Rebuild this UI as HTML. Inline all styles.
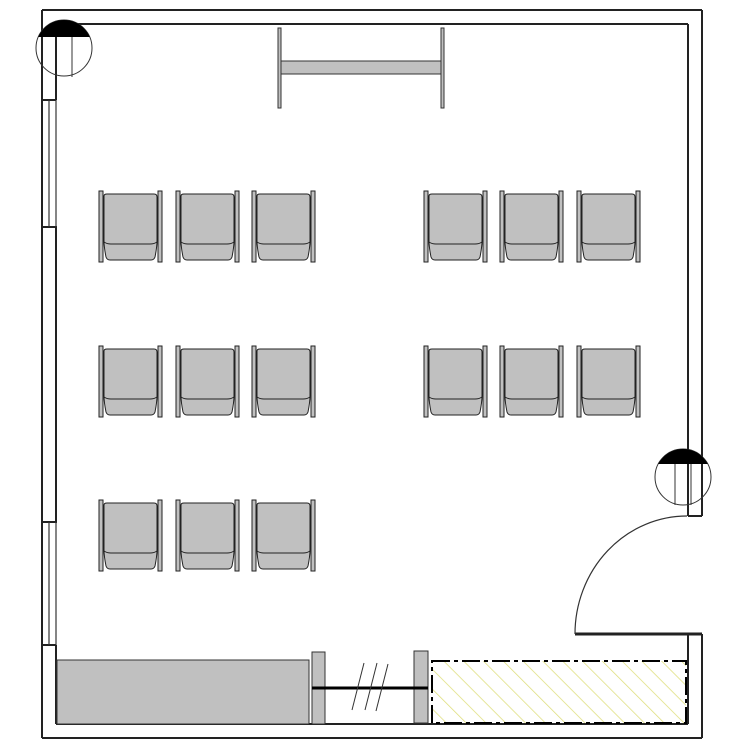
<!DOCTYPE html>
<html><head><style>body{margin:0;background:#fff}svg{display:block}</style></head><body>
<svg width="750" height="750" viewBox="0 0 750 750" xmlns="http://www.w3.org/2000/svg">
<defs>
<pattern id="h" patternUnits="userSpaceOnUse" width="14" height="14" patternTransform="rotate(-45)">
<line x1="0" y1="0" x2="0" y2="14" stroke="#dede7a" stroke-width="1.5"/>
</pattern>
<clipPath id="c1"><rect x="0" y="0" width="750" height="37"/></clipPath>
<clipPath id="c2"><rect x="600" y="400" width="150" height="64"/></clipPath>
<g id="ch">
<rect x="0" y="0" width="4" height="71" fill="#c0c0c0" stroke="#222" stroke-width="1"/>
<rect x="59" y="0" width="4" height="71" fill="#c0c0c0" stroke="#222" stroke-width="1"/>
<path d="M5 5 Q5 3 8 3 L55 3 Q58 3 58 6 L58 50 Q58 56 56 66 Q55 69 52 69 L11 69 Q8 69 7 66 Q5 56 5 50 Z" fill="#c0c0c0" stroke="#222" stroke-width="1"/>
<path d="M5 51 Q8 53 12 53 L51 53 Q55 53 58 51" fill="none" stroke="#222" stroke-width="1"/>
</g>
</defs>
<g fill="none" stroke="#222" stroke-width="2">
<line x1="42" y1="10" x2="702" y2="10"/>
<line x1="56" y1="24" x2="688" y2="24"/>
<line x1="702" y1="10" x2="702" y2="516"/>
<line x1="688" y1="24" x2="688" y2="516"/>
<line x1="688" y1="516" x2="702" y2="516"/>
<line x1="702" y1="634" x2="702" y2="738"/>
<line x1="688" y1="634" x2="688" y2="724"/>
<line x1="575" y1="634" x2="702" y2="634" stroke-width="3"/>
<line x1="42" y1="738" x2="702" y2="738"/>
<line x1="56" y1="724" x2="688" y2="724"/>
<line x1="42" y1="10" x2="42" y2="738"/>
<line x1="56" y1="24" x2="56" y2="100"/>
<line x1="42" y1="100" x2="56" y2="100"/>
<rect x="42" y="227" width="14" height="295"/>
<line x1="56" y1="645" x2="56" y2="724"/>
<line x1="42" y1="645" x2="56" y2="645"/>
</g>
<g stroke="#333" stroke-width="1.2">
<line x1="56" y1="100" x2="56" y2="227"/>
<line x1="49" y1="100" x2="49" y2="227"/>
<line x1="56" y1="522" x2="56" y2="645"/>
<line x1="49" y1="522" x2="49" y2="645"/>
</g>
<circle cx="64" cy="48" r="28" fill="none" stroke="#333" stroke-width="1"/>
<circle cx="64" cy="48" r="28" fill="#000" clip-path="url(#c1)"/>
<line x1="72" y1="37" x2="72" y2="77" stroke="#333"/>
<circle cx="683" cy="477" r="28" fill="none" stroke="#333" stroke-width="1"/>
<circle cx="683" cy="477" r="28" fill="#000" clip-path="url(#c2)"/>
<line x1="675" y1="464" x2="675" y2="505" stroke="#333"/>
<line x1="691" y1="464" x2="691" y2="505" stroke="#333"/>
<path d="M687 516 A112 118 0 0 0 575 634" fill="none" stroke="#333" stroke-width="1.2"/>
<rect x="278" y="28" width="3" height="80" fill="#c0c0c0" stroke="#333"/>
<rect x="441" y="28" width="3" height="80" fill="#c0c0c0" stroke="#333"/>
<rect x="281" y="61" width="160" height="13" fill="#c0c0c0" stroke="#333"/>
<use href="#ch" x="99" y="191"/><use href="#ch" x="176" y="191"/><use href="#ch" x="252" y="191"/>
<use href="#ch" x="424" y="191"/><use href="#ch" x="500" y="191"/><use href="#ch" x="577" y="191"/>
<use href="#ch" x="99" y="346"/><use href="#ch" x="176" y="346"/><use href="#ch" x="252" y="346"/>
<use href="#ch" x="424" y="346"/><use href="#ch" x="500" y="346"/><use href="#ch" x="577" y="346"/>
<use href="#ch" x="99" y="500"/><use href="#ch" x="176" y="500"/><use href="#ch" x="252" y="500"/>
<rect x="57" y="660" width="252" height="64" fill="#c0c0c0" stroke="#333"/>
<rect x="312" y="652" width="13" height="72" fill="#c0c0c0" stroke="#333"/>
<rect x="414" y="651" width="14" height="72" fill="#c0c0c0" stroke="#333"/>
<line x1="312" y1="688" x2="428" y2="688" stroke="#000" stroke-width="3"/>
<g stroke="#333" stroke-width="1"><line x1="352" y1="710" x2="364" y2="663"/><line x1="365" y1="710" x2="377" y2="663"/><line x1="376" y1="711" x2="388" y2="664"/></g>
<rect x="432" y="661" width="254" height="62" fill="url(#h)" stroke="#000" stroke-width="2" stroke-dasharray="18 4 4 4"/>
</svg>
</body></html>
